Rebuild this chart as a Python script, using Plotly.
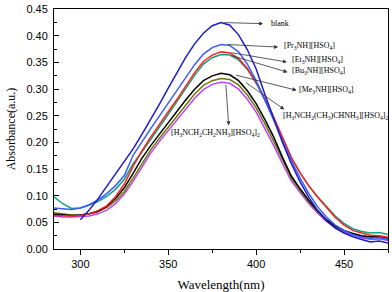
import plotly.graph_objects as go

wavelength = [285, 290, 295, 300, 305, 310, 315, 320, 325, 330, 335, 340, 345, 350, 355,
              360, 365, 370, 375, 380, 385, 390, 395, 400, 405, 410, 415, 420, 425, 430,
              435, 440, 445, 450, 455, 460, 465, 470, 475]

blank_wl = wavelength[3:]
blank = [0.055, 0.073, 0.094, 0.117, 0.140, 0.163, 0.188, 0.215, 0.243, 0.272, 0.302, 0.330,
         0.360, 0.385, 0.405, 0.419, 0.425, 0.420, 0.402, 0.374, 0.338, 0.290, 0.243, 0.200,
         0.160, 0.126, 0.097, 0.072, 0.053, 0.039, 0.030, 0.023, 0.018, 0.013, 0.015, 0.011]

pr3nh = [0.077, 0.075, 0.074, 0.077, 0.083, 0.092, 0.104, 0.119, 0.138, 0.176, 0.202, 0.226,
         0.250, 0.274, 0.298, 0.322, 0.346, 0.366, 0.378, 0.384, 0.382, 0.370, 0.347, 0.316,
         0.280, 0.242, 0.203, 0.166, 0.133, 0.104, 0.079, 0.060, 0.045, 0.035, 0.027, 0.022,
         0.020, 0.021, 0.018]

et3nh = [0.063, 0.062, 0.062, 0.063, 0.066, 0.072, 0.081, 0.098, 0.122, 0.155, 0.184, 0.210,
         0.235, 0.258, 0.281, 0.305, 0.331, 0.352, 0.364, 0.370, 0.368, 0.358, 0.339, 0.313,
         0.282, 0.247, 0.209, 0.172, 0.143, 0.118, 0.097, 0.077, 0.059, 0.045, 0.035, 0.030,
         0.026, 0.025, 0.022]

bu3nh = [0.098, 0.085, 0.076, 0.077, 0.082, 0.089, 0.099, 0.112, 0.131, 0.160, 0.182, 0.205,
         0.229, 0.253, 0.277, 0.301, 0.326, 0.347, 0.359, 0.365, 0.364, 0.355, 0.337, 0.311,
         0.280, 0.245, 0.207, 0.171, 0.143, 0.119, 0.098, 0.079, 0.062, 0.048, 0.038, 0.033,
         0.030, 0.031, 0.027]

me3nh = [0.065, 0.064, 0.063, 0.064, 0.066, 0.071, 0.080, 0.095, 0.115, 0.142, 0.170, 0.194,
         0.216, 0.237, 0.258, 0.280, 0.300, 0.316, 0.325, 0.330, 0.327, 0.316, 0.297, 0.273,
         0.243, 0.210, 0.172, 0.137, 0.113, 0.091, 0.072, 0.055, 0.043, 0.035, 0.029, 0.025,
         0.023, 0.024, 0.021]

propdiam = [0.068, 0.066, 0.064, 0.064, 0.066, 0.070, 0.078, 0.090, 0.108, 0.133, 0.160, 0.186,
            0.208, 0.229, 0.250, 0.271, 0.291, 0.307, 0.316, 0.320, 0.318, 0.308, 0.289, 0.265,
            0.235, 0.202, 0.166, 0.133, 0.110, 0.088, 0.070, 0.054, 0.042, 0.034, 0.028, 0.024,
            0.022, 0.022, 0.020]

ethdiam = [0.062, 0.060, 0.060, 0.061, 0.062, 0.066, 0.073, 0.085, 0.103, 0.127, 0.153, 0.180,
           0.202, 0.222, 0.243, 0.264, 0.283, 0.299, 0.309, 0.313, 0.311, 0.300, 0.281, 0.257,
           0.226, 0.194, 0.160, 0.128, 0.106, 0.085, 0.067, 0.052, 0.040, 0.032, 0.026, 0.021,
           0.018, 0.019, 0.016]

labels = ["blank",
          "[Pr<sub>3</sub>NH][HSO<sub>4</sub>]",
          "[Et<sub>3</sub>NH][HSO<sub>4</sub>]",
          "[Bu<sub>3</sub>NH][HSO<sub>4</sub>]",
          "[Me<sub>3</sub>NH][HSO<sub>4</sub>]",
          "[H<sub>3</sub>NCH<sub>2</sub>(CH<sub>3</sub>)CHNH<sub>3</sub>][HSO<sub>4</sub>]<sub>2</sub>",
          "[H<sub>3</sub>NCH<sub>2</sub>CH<sub>2</sub>NH<sub>3</sub>][HSO<sub>4</sub>]<sub>2</sub>"]

x_ticks = [300, 350, 400, 450]
y_ticks = [0.00, 0.05, 0.10, 0.15, 0.20, 0.25, 0.30, 0.35, 0.40, 0.45]

series = [
    (blank_wl, blank, "#1c1cc8"),
    (wavelength, pr3nh, "#3a5cff"),
    (wavelength, et3nh, "#ff2020"),
    (wavelength, bu3nh, "#14a07c"),
    (wavelength, me3nh, "#000000"),
    (wavelength, propdiam, "#6e7a00"),
    (wavelength, ethdiam, "#c040ff"),
]

fig = go.Figure()
for i in [6, 5, 4, 3, 2, 1, 0]:
    xs, ys, col = series[i]
    fig.add_trace(go.Scatter(x=xs, y=ys, mode="lines", line=dict(color=col, width=1.5),
                             name=labels[i], showlegend=False))

# (text x, text y, arrow tail x, tail y, arrow head x, head y, anchor)
placements = [
    (407.5, 0.424, 381.0, 0.425, 404.0, 0.423, "left"),
    (414.5, 0.381, 383.0, 0.384, 412.5, 0.379, "left"),
    (419.0, 0.354, 385.0, 0.369, 417.5, 0.351, "left"),
    (419.0, 0.334, 385.0, 0.364, 417.8, 0.332, "left"),
    (423.0, 0.299, 387.8, 0.327, 423.0, 0.298, "left"),
    (414.0, 0.250, 393.4, 0.314, 416.0, 0.262, "left"),
    (377.0, 0.218, 382.7, 0.311, 384.4, 0.232, "center"),
]
font_lbl = dict(family="Liberation Serif, Times New Roman, serif", size=8, color="black")
for lbl, (tx, ty, ax_, ay_, hx, hy, anc) in zip(labels, placements):
    fig.add_annotation(x=hx, y=hy, ax=ax_, ay=ay_, axref="x", ayref="y", xref="x", yref="y",
                       text="", showarrow=True, arrowhead=2, arrowsize=1, arrowwidth=0.8,
                       arrowcolor="#333333", standoff=0, startstandoff=0)
    fig.add_annotation(x=tx, y=ty, xref="x", yref="y", text=lbl, showarrow=False,
                       xanchor=anc, yanchor="middle", font=font_lbl)

axis_common = dict(showline=True, linecolor="black", linewidth=1, mirror=True,
                   showgrid=False, zeroline=False, ticklabeloverflow="allow",
                   tickfont=dict(family="Liberation Sans, Arial, sans-serif", size=11, color="black"),
                   tickcolor="black", tickwidth=1)

fig.update_xaxes(range=[285, 475], tickvals=x_ticks, ticks="outside", ticklen=5,
                 minor=dict(ticks="outside", ticklen=3, dtick=25, tick0=300, tickcolor="black"),
                 title=dict(text="Wavelength(nm)", standoff=10,
                            font=dict(family="Liberation Serif, Times New Roman, serif", size=13,
                                      color="black")),
                 **axis_common)
fig.update_yaxes(range=[0, 0.4505], tickvals=y_ticks, tickformat=".2f", ticks="inside", ticklen=5,
                 minor=dict(ticks="inside", ticklen=3, dtick=0.025, tick0=0, tickcolor="black"),
                 ticklabelstandoff=3,
                 title=dict(text="Absorbance(a.u.)", standoff=8,
                            font=dict(family="Liberation Serif, Times New Roman, serif", size=12,
                                      color="black")),
                 **axis_common)

fig.update_layout(width=392, height=292, margin=dict(l=54, r=3, t=6, b=41),
                  plot_bgcolor="white", paper_bgcolor="white")

fig.write_html("out.html", config={"displayModeBar": False},
               post_script="document.body.style.margin='0';document.body.style.padding='0';")
